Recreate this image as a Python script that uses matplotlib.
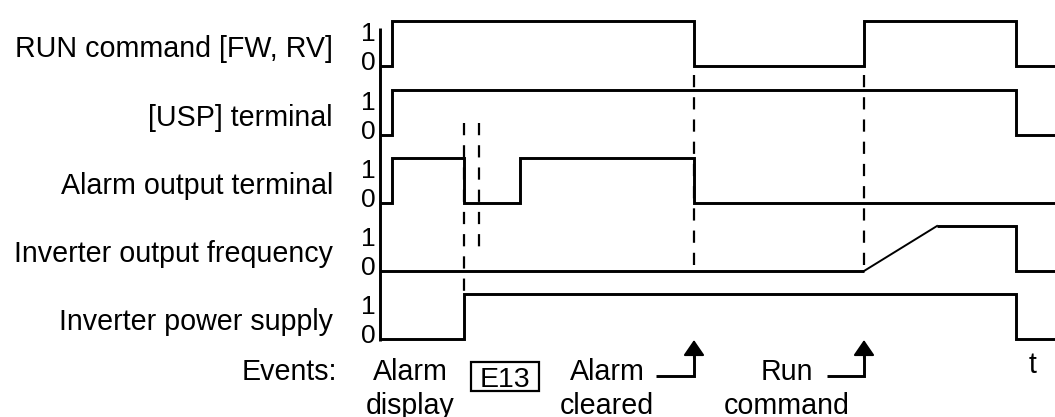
import matplotlib
matplotlib.use("Agg")  # headless
import matplotlib.pyplot as plt
from matplotlib.patches import Rectangle

plt.rcParams["font.family"] = ["Liberation Sans", "DejaVu Sans"]

# ─── data ────────────────────────────────────────────────────────────────────
SIGNAL_NAMES = [
    "RUN command [FW, RV]",
    "[USP] terminal",
    "Alarm output terminal",
    "Inverter output frequency",
    "Inverter power supply",
]

T_START, T_END = 380, 1055          # time span drawn

# switching instants (signal starts at 0 and toggles at each edge)
RUN_EDGES   = [392, 694, 864, 1016]
USP_EDGES   = [392, 1016]
ALARM_EDGES = [392, 464, 520, 694]
POWER_EDGES = [464, 1016]

# frequency ramps up, so it is given point by point
FREQ_TIMES  = [380, 864, 937, 1016, 1016, 1055]
FREQ_LEVELS = [0, 0, 1, 1, 0, 0]

# event instants
T_TRIP        = 464
T_TRIP_2      = 479
T_ALARM_CLEAR = 694
T_RUN_CMD     = 864

EVENT_LABELS = [("Alarm", "display"), ("Alarm", "cleared"), ("Run", "command")]

# ─── layout ──────────────────────────────────────────────────────────────────
ROW_BASE = [66, 135, 203, 271, 339]
HIGH = 45
LW = 2.1
FS_LABEL = 20.6
FS_DIGIT = 19


def step_wave(edges):
    t, v = [T_START], [0]
    level = 0
    for e in edges:
        t += [e, e]
        v += [level, 1 - level]
        level = 1 - level
    t.append(T_END)
    v.append(level)
    return t, v


def to_y(row, levels):
    return [ROW_BASE[row] - lv * HIGH for lv in levels]


fig = plt.figure(figsize=(10.55, 4.17), dpi=100)
ax = fig.add_axes([0, 0, 1, 1])
ax.set_xlim(0, 1055)
ax.set_ylim(417, 0)
ax.axis("off")

kw = dict(color="black", lw=LW, solid_joinstyle="miter", solid_capstyle="butt")

for row, edges in [(0, RUN_EDGES), (1, USP_EDGES), (2, ALARM_EDGES), (4, POWER_EDGES)]:
    t, v = step_wave(edges)
    ax.plot(t, to_y(row, v), **kw)

# frequency: ramp drawn thinner
ax.plot(FREQ_TIMES[:2], to_y(3, FREQ_LEVELS[:2]), **kw)
ax.plot(FREQ_TIMES[1:3], to_y(3, FREQ_LEVELS[1:3]), color="black", lw=1.4)
ax.plot(FREQ_TIMES[2:], to_y(3, FREQ_LEVELS[2:]), **kw)

# vertical axis
ax.plot([T_START, T_START], [28, 341], **kw)

# row labels and 1/0 markers
for row, name in enumerate(SIGNAL_NAMES):
    base = ROW_BASE[row]
    ax.text(333, base - 9, name, ha="right", va="baseline", fontsize=FS_LABEL)
    ax.text(368, base - 32, "1", ha="center", va="center", fontsize=FS_DIGIT)
    ax.text(368, base - 3, "0", ha="center", va="center", fontsize=FS_DIGIT)

# dashed event markers
dkw = dict(color="black", lw=1.6, dashes=(5.5, 4.5))
ax.plot([T_TRIP, T_TRIP], [123, 293], **dkw)
ax.plot([T_TRIP_2, T_TRIP_2], [123, 248], **dkw)
ax.plot([T_ALARM_CLEAR, T_ALARM_CLEAR], [75, 267], **dkw)
ax.plot([T_RUN_CMD, T_RUN_CMD], [75, 267], **dkw)

# events row
ax.text(337, 380, "Events:", ha="right", va="baseline", fontsize=FS_LABEL)
for xc, (l1, l2) in zip([410, 607, 787], EVENT_LABELS):
    ax.text(xc, 380, l1, ha="center", va="baseline", fontsize=FS_LABEL)
    ax.text(xc, 414, l2, ha="center", va="baseline", fontsize=FS_LABEL)

ax.add_patch(Rectangle((471, 362), 68, 29, fill=False, ec="black", lw=1.6))
ax.text(505, 387, "E13", ha="center", va="baseline", fontsize=20.5)

ax.text(1033, 373, "t", ha="center", va="baseline", fontsize=FS_LABEL)

# L-shaped arrows pointing at the event instants
for t_ev, x_from in [(T_ALARM_CLEAR, 656), (T_RUN_CMD, 827)]:
    ax.plot([x_from, t_ev, t_ev], [376, 376, 350], **kw)
    ax.annotate("", xy=(t_ev, ROW_BASE[4] + 1), xytext=(t_ev, 358),
                arrowprops=dict(arrowstyle="-|>,head_length=0.95,head_width=0.65",
                                color="black", lw=1.5, shrinkA=0, shrinkB=0,
                                mutation_scale=10))

fig.savefig("out.png", dpi=100)
